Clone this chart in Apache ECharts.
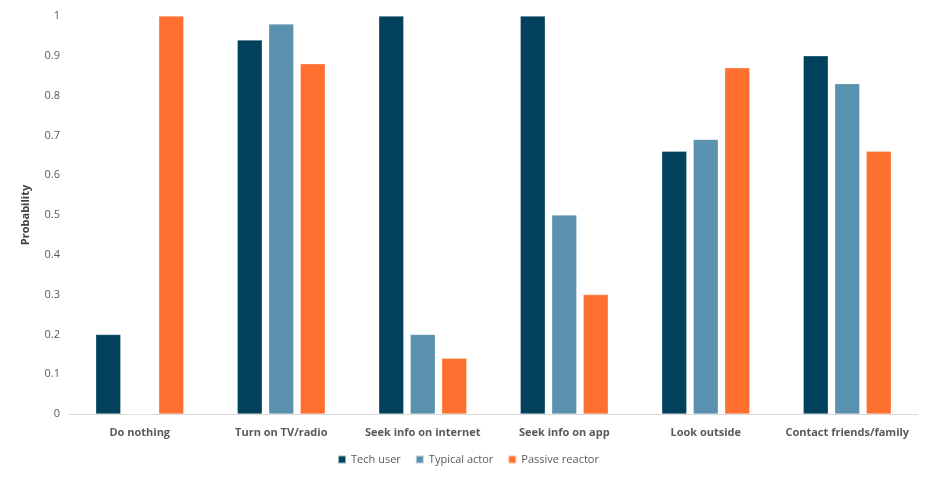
<!DOCTYPE html>
<html lang="en">
<head>
    <meta charset="UTF-8">
    <title>Probability chart</title>
    <style>
        *{ margin: 0; padding: 0;}
        body{ background: #fff;}
        #chart{ width: 936px; height: 484px;}
    </style>
    <script src="https://cdn.jsdelivr.net/npm/echarts@6/dist/echarts.min.js"></script>
</head>
<body>
    <div id="chart"></div>
    <script>
        // 数据
        var categories = ["Do nothing", "Turn on TV/radio", "Seek info on internet", "Seek info on app", "Look outside", "Contact friends/family"];
        var techUser = [0.2, 0.94, 1, 1, 0.66, 0.9];
        var typicalActor = [0, 0.98, 0.2, 0.5, 0.69, 0.83];
        var passiveReactor = [1, 0.88, 0.14, 0.3, 0.87, 0.66];
        var yTicks = [0, 0.1, 0.2, 0.3, 0.4, 0.5, 0.6, 0.7, 0.8, 0.9, 1];

        var font = "'Open Sans', 'Liberation Sans', sans-serif";
        var myChart = echarts.init(document.getElementById("chart"));

        function barSeries(name, data, color) {
            return {
                name: name,
                type: "bar",
                data: data,
                barWidth: 25,
                barGap: "26%",
                itemStyle: { color: color, borderColor: "rgba(255,255,255,0.6)", borderWidth: 0.5 }
            };
        }

        var option = {
            animation: false,
            textStyle: { fontFamily: font },
            grid: { left: 69, right: 18, top: 16, bottom: 70 },
            legend: {
                bottom: 14,
                left: "center",
                itemWidth: 8,
                itemHeight: 8,
                itemGap: 14,
                icon: "rect",
                textStyle: { color: "#595959", fontSize: 11, fontFamily: font }
            },
            xAxis: {
                type: "category",
                data: categories,
                axisTick: { show: false },
                axisLine: { lineStyle: { color: "#d9d9d9" } },
                axisLabel: { color: "#595959", fontSize: 11, fontWeight: "bold", margin: 13, interval: 0 }
            },
            yAxis: {
                type: "value",
                min: yTicks[0],
                max: yTicks[yTicks.length - 1],
                interval: 0.1,
                name: "Probability",
                nameLocation: "middle",
                nameGap: 38,
                nameTextStyle: { color: "#404040", fontSize: 11, fontWeight: "bold" },
                splitLine: { show: false },
                axisLine: { show: false },
                axisTick: { show: false },
                axisLabel: {
                    color: "#595959", fontSize: 11, margin: 9,
                    formatter: function (v) { return String(Math.round(v * 10) / 10); }
                }
            },
            series: [
                barSeries("Tech user", techUser, "#02415c"),
                barSeries("Typical actor", typicalActor, "#5a91ae"),
                barSeries("Passive reactor", passiveReactor, "#ff6f2f")
            ]
        };
        myChart.setOption(option);
    </script>
</body>
</html>
